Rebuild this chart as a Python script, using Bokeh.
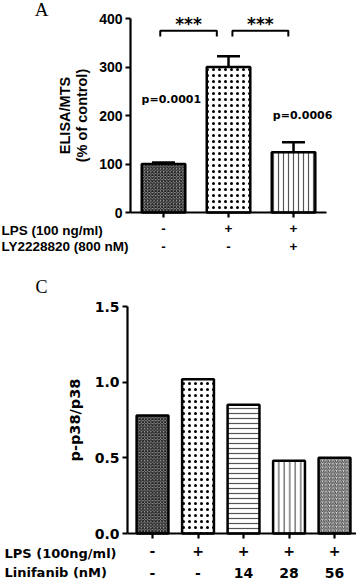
from bokeh.plotting import figure
from bokeh.models import ColumnDataSource, FixedTicker, Range1d, Whisker, TeeHead
from bokeh.core.properties import value
from bokeh.layouts import column
from bokeh.embed import file_html
from bokeh.resources import INLINE

# ---------------- data ----------------
a_groups = [1, 2, 3]
a_values = [100, 300, 124]
a_errors = [3, 22, 21]
a_lps = ["-", "+", "+"]
a_ly = ["-", "-", "+"]
a_yticks = [0, 100, 200, 300, 400]
a_row_names = ["LPS (100 ng/ml)", "LY2228820 (800 nM)"]
a_brackets = [[0.95, 1.82], [2.06, 2.92]]
a_bracket_y = [363, 375]
a_stars = ["***", "***"]
a_pvals = ["p=0.0001", "p=0.0006"]
a_pval_x = [1.12, 3.14]
a_pval_y = [233, 200]

c_groups = [1, 2, 3, 4, 5]
c_values = [0.78, 1.02, 0.85, 0.48, 0.50]
c_lps = ["-", "+", "+", "+", "+"]
c_lin = ["-", "-", "14", "28", "56"]
c_yticks = [0.0, 0.5, 1.0, 1.5]
c_row_names = ["LPS (100ng/ml)", "Linifanib (nM)"]

ARIAL = "Liberation Sans"
WIDE = "DejaVu Sans"
SERIF = "Liberation Serif"


class PxMap:
    """Maps pixel positions of the canvas to data coordinates."""
    def __init__(self, W, H, x0, px0, sx, y0, py0, sy):
        self.W, self.H = W, H
        self.x0, self.px0, self.sx = x0, px0, sx
        self.y0, self.py0, self.sy = y0, py0, sy

    def x(self, px):
        return self.x0 + (px - self.px0) / self.sx

    def y(self, py):
        return self.y0 + (self.py0 - py) / self.sy


def make_fig(m, xb, yb, yticks, tick_font, tick_size, xlab_font, xlab_size):
    p = figure(width=m.W, height=m.H, output_backend="svg", toolbar_location=None,
               x_range=Range1d(m.x(0), m.x(m.W)), y_range=Range1d(m.y(m.H), m.y(0)),
               min_border=0, min_border_left=0, min_border_right=0,
               min_border_top=0, min_border_bottom=0)
    p.xgrid.visible = False
    p.ygrid.visible = False
    p.outline_line_color = None
    for ax in (p.xaxis[0], p.yaxis[0]):
        ax.axis_line_width = 2.2
        ax.axis_line_color = "black"
        ax.major_tick_line_width = 2.2
        ax.major_tick_line_color = "black"
        ax.major_tick_out = 5
        ax.major_tick_in = 0
        ax.minor_tick_line_color = None
        ax.major_label_text_font_style = "bold"
        ax.major_label_text_color = "black"
        ax.axis_label_text_font_style = "bold"
        ax.axis_label_text_color = "black"
    p.yaxis[0].major_label_text_font = tick_font
    p.yaxis[0].major_label_text_font_size = tick_size
    p.xaxis[0].major_label_text_font = xlab_font
    p.xaxis[0].major_label_text_font_size = xlab_size
    p.xaxis[0].fixed_location = yb[0]
    p.xaxis[0].bounds = tuple(xb)
    p.yaxis[0].fixed_location = xb[0]
    p.yaxis[0].bounds = tuple(yb)
    p.yaxis[0].ticker = FixedTicker(ticks=yticks)
    p.yaxis[0].major_label_standoff = 3
    return p


def txt(p, xs, ys, texts, size, font, align="center", style="bold"):
    p.text(x=xs, y=ys, text=texts, text_align=align, text_baseline="middle",
           text_font=value(font), text_font_style=style, text_font_size=size,
           text_color="black")


# ---------------- panel A ----------------
mA = PxMap(356, 260, 0.492, 130, 65.0, 0.0, 212, 0.485)
pA = make_fig(mA, (0.492, 3.508), (0, 400), a_yticks, ARIAL, "14px", ARIAL, "13.5px")
pA.xaxis[0].ticker = FixedTicker(ticks=a_groups)
pA.xaxis[0].major_label_overrides = {g: s for g, s in zip(a_groups, a_lps)}
pA.xaxis[0].major_label_standoff = 6
pA.yaxis[0].axis_label = "ELISA/MTS\n(% of control)"
pA.yaxis[0].axis_label_text_font = ARIAL
pA.yaxis[0].axis_label_text_font_size = "14.5px"
pA.yaxis[0].axis_label_text_line_height = 1.05
pA.yaxis[0].axis_label_standoff = 6

srcA = ColumnDataSource(dict(
    x=a_groups, top=a_values,
    upper=[v + e for v, e in zip(a_values, a_errors)],
    ly=a_ly,
    fill=["#9a9a9a", "white", "white"],
    hatch=["diagonal_cross", "dot", "vertical_line"],
    hcolor=["#1e1e1e", "black", "#555555"],
    hscale=[3.2, 6.0, 5.0],
    hweight=[1.0, 4.6, 1.2],
))
pA.vbar(x="x", top="top", width=0.67, source=srcA, fill_color="fill",
        line_color="black", line_width=2.5, hatch_pattern="hatch",
        hatch_color="hcolor", hatch_scale="hscale", hatch_weight="hweight")
pA.add_layout(Whisker(base="x", lower="top", upper="upper", source=srcA,
                      line_width=2.5, line_color="black",
                      upper_head=TeeHead(size=23, line_width=2.5, line_color="black"),
                      lower_head=None))

bx = [[b[0], b[0], b[1], b[1]] for b in a_brackets]
by = [[a_bracket_y[0], a_bracket_y[1], a_bracket_y[1], a_bracket_y[0]] for _ in a_brackets]
pA.multi_line(xs=bx, ys=by, line_color="black", line_width=2)
txt(pA, [(b[0] + b[1]) / 2 for b in a_brackets], [mA.y(23)] * len(a_stars), a_stars,
    "17px", WIDE)
txt(pA, a_pval_x, a_pval_y, a_pvals, "11px", WIDE)

txt(pA, a_groups, [mA.y(246)] * len(a_groups), a_ly, "13.5px", ARIAL)
txt(pA, [mA.x(1)] * 2, [mA.y(230), mA.y(246)], a_row_names, "13.5px", ARIAL, align="left")
txt(pA, [mA.x(41)], [mA.y(9)], ["A"], "19px", SERIF, style="normal")

# ---------------- panel C ----------------
mC = PxMap(356, 322, 0.45, 127, 45.5, 0.0, 273, 151.33)
pC = make_fig(mC, (0.45, 5.48), (0.0, 1.5), c_yticks, WIDE, "14px", WIDE, "14px")
pC.xaxis[0].ticker = FixedTicker(ticks=c_groups)
pC.xaxis[0].major_label_overrides = {g: s for g, s in zip(c_groups, c_lps)}
pC.xaxis[0].major_label_standoff = 7
pC.yaxis[0].axis_label = "p-p38/p38"
pC.yaxis[0].axis_label_text_font = WIDE
pC.yaxis[0].axis_label_text_font_size = "14.5px"
pC.yaxis[0].axis_label_standoff = 9
pC.yaxis[0].major_label_overrides = {t: f"{t:.1f}" for t in c_yticks}

srcC = ColumnDataSource(dict(
    x=c_groups, top=c_values, lin=c_lin,
    fill=["#9a9a9a", "white", "white", "white", "#dddddd"],
    hatch=["diagonal_cross", "dot", "horizontal_line", "vertical_line", "right_diagonal_line"],
    hcolor=["#1e1e1e", "black", "#555555", "#555555", "#444444"],
    hscale=[3.2, 6.0, 5.0, 5.5, 3.5],
    hweight=[1.0, 4.6, 1.2, 1.2, 1.0],
))
pC.vbar(x="x", top="top", width=0.70, source=srcC, fill_color="fill",
        line_color="black", line_width=2.5, hatch_pattern="hatch",
        hatch_color="hcolor", hatch_scale="hscale", hatch_weight="hweight")
txt(pC, c_groups, [mC.y(312)] * len(c_groups), c_lin, "14px", WIDE)
txt(pC, [mC.x(4)] * 2, [mC.y(293), mC.y(312)], c_row_names, "13px", WIDE, align="left")
txt(pC, [mC.x(41)], [mC.y(26)], ["C"], "18px", SERIF, style="normal")

layout = column(pA, pC, spacing=0)
open("out.html", "w").write(file_html(layout, INLINE))
